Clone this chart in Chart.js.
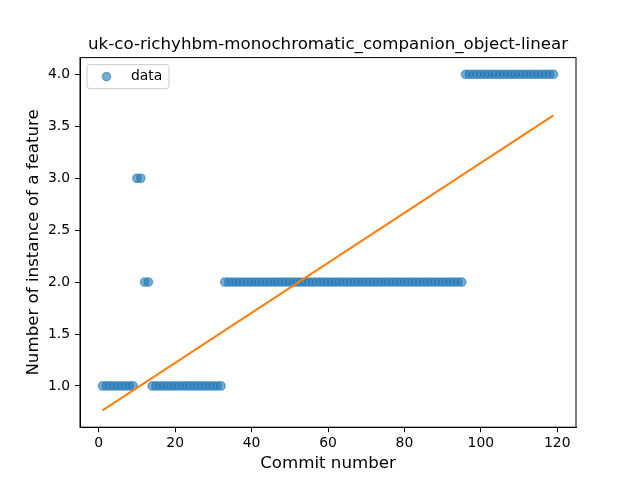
<!DOCTYPE html>
<html>
<head>
<meta charset="utf-8">
<script src="https://cdn.jsdelivr.net/npm/chart.js@4.4.0/dist/chart.umd.min.js"></script>
<style>html,body{margin:0;padding:0;background:#fff}canvas{display:block}</style>
</head>
<body>
<canvas id="chart" width="640" height="480"></canvas>
<script>
const commits = [
    1, 2, 3, 4, 5, 6, 7, 8, 9, 10, 11, 12, 13, 14, 15, 16, 17, 18, 19, 20,
    21, 22, 23, 24, 25, 26, 27, 28, 29, 30, 31, 32, 33, 34, 35, 36, 37, 38, 39, 40,
    41, 42, 43, 44, 45, 46, 47, 48, 49, 50, 51, 52, 53, 54, 55, 56, 57, 58, 59, 60,
    61, 62, 63, 64, 65, 66, 67, 68, 69, 70, 71, 72, 73, 74, 75, 76, 77, 78, 79, 80,
    81, 82, 83, 84, 85, 86, 87, 88, 89, 90, 91, 92, 93, 94, 95, 96, 97, 98, 99, 100,
    101, 102, 103, 104, 105, 106, 107, 108, 109, 110, 111, 112, 113, 114, 115, 116, 117, 118, 119
];
const featureCount = [
    1, 1, 1, 1, 1, 1, 1, 1, 1, 3, 3, 2, 2, 1, 1, 1, 1, 1, 1, 1,
    1, 1, 1, 1, 1, 1, 1, 1, 1, 1, 1, 1, 2, 2, 2, 2, 2, 2, 2, 2,
    2, 2, 2, 2, 2, 2, 2, 2, 2, 2, 2, 2, 2, 2, 2, 2, 2, 2, 2, 2,
    2, 2, 2, 2, 2, 2, 2, 2, 2, 2, 2, 2, 2, 2, 2, 2, 2, 2, 2, 2,
    2, 2, 2, 2, 2, 2, 2, 2, 2, 2, 2, 2, 2, 2, 2, 4, 4, 4, 4, 4,
    4, 4, 4, 4, 4, 4, 4, 4, 4, 4, 4, 4, 4, 4, 4, 4, 4, 4, 4
];
const fitCommits = [1, 119];
const fitValues = [0.765, 3.605];
const xTicks = [0, 20, 40, 60, 80, 100, 120];
const yTicks = [1.0, 1.5, 2.0, 2.5, 3.0, 3.5, 4.0];
const chartTitle = 'uk-co-richyhbm-monochromatic_companion_object-linear';

const FONT = 'DejaVu Sans';
const blue = 'rgba(31,119,180,0.6)';
const orange = '#ff7f0e';

// black box around the plot area, title over the axes and the legend
const framePlugin = {
    id: 'frame',
    afterDraw(chart) {
        const { ctx, chartArea: a } = chart;
        ctx.save();
        ctx.strokeStyle = '#000';
        ctx.lineWidth = 1;
        ctx.strokeRect(a.left, a.top, a.right - a.left, a.bottom - a.top);

        ctx.fillStyle = '#000';
        ctx.font = `16.67px "${FONT}"`;
        ctx.textAlign = 'center';
        ctx.textBaseline = 'alphabetic';
        ctx.fillText(chartTitle, (a.left + a.right) / 2, a.top - 9);

        const x = a.left + 7, y = a.top + 7, w = 82, h = 24, r = 3;
        ctx.beginPath();
        ctx.roundRect(x, y, w, h, r);
        ctx.fillStyle = 'rgba(255,255,255,0.8)';
        ctx.fill();
        ctx.strokeStyle = '#cccccc';
        ctx.stroke();

        ctx.beginPath();
        ctx.arc(x + 19.5, y + h / 2, 4.17, 0, Math.PI * 2);
        ctx.fillStyle = blue;
        ctx.fill();
        ctx.strokeStyle = blue;
        ctx.lineWidth = 1.39;
        ctx.stroke();

        ctx.fillStyle = '#000';
        ctx.font = `13.9px "${FONT}"`;
        ctx.textAlign = 'left';
        ctx.textBaseline = 'middle';
        ctx.fillText('data', x + 44, y + h / 2);
        ctx.restore();
    }
};

const tickFont = { family: FONT, size: 13.9 };
const titleFont = { family: FONT, size: 16.67 };

new Chart(document.getElementById('chart'), {
    type: 'scatter',
    data: {
        datasets: [
            {
                label: 'fit',
                data: fitCommits.map((c, i) => ({ x: c, y: fitValues[i] })),
                showLine: true,
                borderColor: orange,
                borderWidth: 2.1,
                pointRadius: 0,
                order: 0
            },
            {
                label: 'data',
                data: commits.map((c, i) => ({ x: c, y: featureCount[i] })),
                backgroundColor: blue,
                borderColor: blue,
                borderWidth: 1.39,
                pointRadius: 4.17,
                pointHoverRadius: 4.17,
                order: 1
            }
        ]
    },
    options: {
        responsive: false,
        animation: false,
        devicePixelRatio: 1,
        layout: { padding: { left: 0, right: 64, top: 57.6, bottom: 0 } },
        plugins: {
            legend: { display: false },
            tooltip: { enabled: false },
            title: { display: false }
        },
        scales: {
            x: {
                type: 'linear',
                min: -4.9,
                max: 124.9,
                afterBuildTicks: s => { s.ticks = xTicks.map(v => ({ value: v })); },
                afterFit: s => { s.height = 52.8; },
                ticks: { color: '#000', font: tickFont, padding: 3, maxRotation: 0, autoSkip: false },
                grid: { drawOnChartArea: false, tickLength: 5, tickColor: '#000', tickWidth: 1 },
                border: { color: '#000', width: 1 },
                title: { display: true, text: 'Commit number', color: '#000', font: titleFont, padding: { top: 0, bottom: 6 } }
            },
            y: {
                type: 'linear',
                min: 0.603,
                max: 4.162,
                afterBuildTicks: s => { s.ticks = yTicks.map(v => ({ value: v })); },
                afterFit: s => { s.width = 80; },
                ticks: { color: '#000', font: tickFont, padding: 5, autoSkip: false, callback: v => v.toFixed(1) },
                grid: { drawOnChartArea: false, tickLength: 5, tickColor: '#000', tickWidth: 1 },
                border: { color: '#000', width: 1 },
                title: { display: true, text: 'Number of instance of a feature', color: '#000', font: titleFont, padding: { top: 24, bottom: 0 } }
            }
        }
    },
    plugins: [framePlugin]
});
</script>
</body>
</html>
